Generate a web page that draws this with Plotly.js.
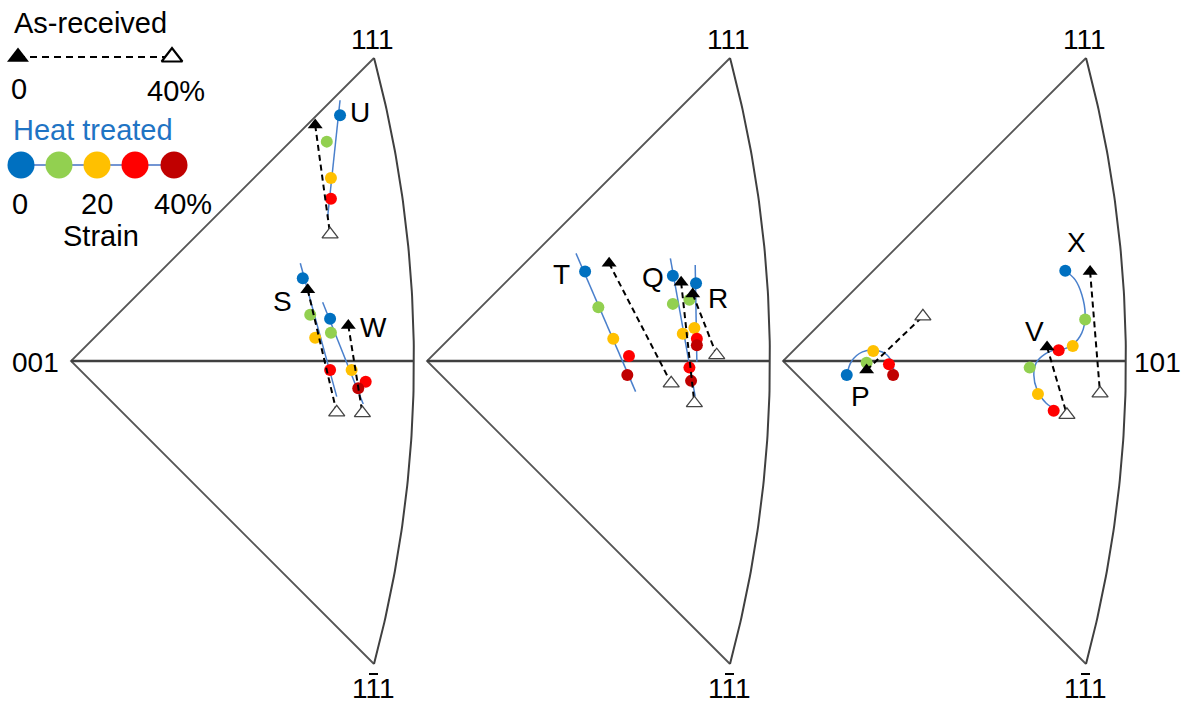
<!DOCTYPE html>
<html><head><meta charset="utf-8">
<script src="https://cdn.plot.ly/plotly-3.0.1.min.js"></script>
<style>html,body{margin:0;padding:0;background:#fff}#chart{width:1185px;height:703px}</style>
</head><body><div id="chart"></div>
<script>
// ---------- data (stereographic IPF coordinates) ----------
const grainNames = ['U','S','W','T','Q','R','P','X','V'];
const grainPanel = [1,1,1,2,2,2,3,3,3];
const strainLevels = [0,10,20,30,40];
const strainColors = ['#0070C0','#92D050','#FFC000','#FF0000','#C00000'];

// heat treated orientations at strain 0,10,20,30,40 %
const heatX = [
  [0.325,0.309,0.314,0.314,null],
  [0.280,0.289,0.295,0.313,null],
  [0.313,0.314,0.339,0.356,0.347],
  [0.191,0.207,0.225,0.244,0.242],
  [0.297,0.297,0.309,0.317,0.319],
  [0.325,0.317,0.323,0.326,0.326],
  [0.077,0.101,0.109,0.128,0.133],
  [0.341,0.365,0.350,0.333,null],
  [null,0.298,0.308,0.327,null]
];
const heatY = [
  [0.297,0.265,0.221,0.196,null],
  [0.100,0.056,0.028,-0.011,null],
  [0.051,0.034,-0.011,-0.025,-0.033],
  [0.108,0.065,0.027,0.006,-0.017],
  [0.103,0.069,0.033,-0.008,-0.024],
  [0.094,0.074,0.040,0.027,0.019],
  [-0.017,-0.002,0.012,-0.004,-0.017],
  [0.109,0.050,0.018,0.013,null],
  [null,-0.008,-0.040,-0.060,null]
];
// heat treated trend paths
const fitX = [
  [0.325,0.310],
  [0.277,0.321],
  [0.304,0.353],
  [0.180,0.252],
  [0.294,0.324],
  [0.324,0.326],
  [0.077,0.083,0.096,0.112,0.126,0.133,0.134],
  [0.341,0.353,0.361,0.365,0.361,0.349,0.334],
  [0.330,0.316,0.306,0.303,0.307,0.318,0.333]
];
const fitY = [
  [0.315,0.174],
  [0.118,-0.043],
  [0.071,-0.052],
  [0.130,-0.037],
  [0.124,-0.043],
  [0.116,-0.001],
  [-0.017,0.000,0.011,0.013,0.007,-0.006,-0.017],
  [0.109,0.098,0.080,0.056,0.034,0.019,0.013],
  [0.014,0.008,-0.002,-0.017,-0.035,-0.051,-0.060]
];
// as-received: 0 % and 40 % strain
const arStartX = [0.295,0.286,0.335,0.220,0.307,0.321,0.101,0.371,0.319];
const arStartY = [0.285,0.086,0.043,0.118,0.095,0.081,-0.011,0.108,0.017];
const arEndX   = [0.313,0.321,0.352,0.295,0.323,0.350,0.169,0.383,0.343];
const arEndY   = [0.153,-0.062,-0.063,-0.027,-0.051,0.007,0.054,-0.039,-0.065];
// grain label positions
const labelX = [0.349,0.256,0.366,0.162,0.273,0.352,0.094,0.355,0.304];
const labelY = [0.300,0.072,0.041,0.104,0.101,0.076,-0.043,0.143,0.036];

const poleLabels = ['001','101','111','111'];

// ---------- geometry / layout ----------
const W = 1185, H = 703, S = 827.8;
const apexPx = [71,427,783], apexPy = 361;
const FONT = 'Liberation Sans, Arial, sans-serif';
const axN = p => p === 1 ? '' : String(p);

const traces = [];
const layout = {
  width: W, height: H, margin:{l:0,r:0,t:0,b:0},
  paper_bgcolor:'#fff', plot_bgcolor:'rgba(0,0,0,0)',
  showlegend:false, annotations:[], shapes:[], font:{family:FONT, size:28, color:'#000'}
};

// frame of the standard triangle (two mirrored halves)
function frame() {
  const c = 1/Math.sqrt(3);
  const v111 = c/(1+c);
  const pm = Math.asin(1/Math.sqrt(3));
  const ax = [], ay = [];
  for (let i = 0; i <= 120; i++) {
    const ph = -pm + 2*pm*i/120;
    const h = Math.cos(ph)/Math.SQRT2, k = Math.sin(ph), l = h;
    ax.push(h/(1+l)); ay.push(k/(1+l));
  }
  return {v111, v101:Math.tan(Math.PI/8), ax, ay};
}
const fr = frame();

for (let p = 1; p <= 3; p++) {
  const n = axN(p);
  const a = apexPx[p-1];
  layout['xaxis'+n] = {domain:[(a-6)/W,(a+350)/W], range:[-6/S,350/S], visible:false, fixedrange:true, anchor:'y'+n};
  layout['yaxis'+n] = {domain:[0,1], range:[-(H-apexPy)/S, apexPy/S], visible:false, fixedrange:true, anchor:'x'+n};
  const xa = 'x'+n, ya = 'y'+n;
  traces.push({type:'scatter', mode:'lines', x:[fr.v111,0,fr.v111], y:[fr.v111,0,-fr.v111],
    xaxis:xa, yaxis:ya, line:{color:'#555555', width:1.8}, hoverinfo:'skip'});
  traces.push({type:'scatter', mode:'lines', x:[0,fr.v101], y:[0,0],
    xaxis:xa, yaxis:ya, line:{color:'#404040', width:2.3}, hoverinfo:'skip'});
  traces.push({type:'scatter', mode:'lines', x:fr.ax, y:fr.ay,
    xaxis:xa, yaxis:ya, line:{color:'#404040', width:2}, hoverinfo:'skip'});
  // pole labels
  layout.annotations.push({xref:xa, yref:ya, x:fr.v111, y:(apexPy-39)/S, xshift:-2, xanchor:'center', yanchor:'middle',
    text:poleLabels[2], showarrow:false, font:{size:28}});
  layout.annotations.push({xref:xa, yref:ya, x:fr.v111, y:-(688-apexPy)/S, xshift:-1, xanchor:'center', yanchor:'middle',
    text:poleLabels[3], showarrow:false, font:{size:28}});
  // overbar on the middle index of 1-11
  const cx = a + 302;
  layout.shapes.push({type:'line', xref:'paper', yref:'paper', x0:(cx-4)/W, x1:(cx+5)/W, y0:1-674/H, y1:1-674/H,
    line:{color:'#000', width:2}});
}
layout.annotations.push({xref:'paper', yref:'paper', x:35/W, y:1-362/H, xanchor:'center', yanchor:'middle',
  text:poleLabels[0], showarrow:false, font:{size:28}});
layout.annotations.push({xref:'paper', yref:'paper', x:1157/W, y:1-362/H, xanchor:'center', yanchor:'middle',
  text:poleLabels[1], showarrow:false, font:{size:28}});

// heat-treated fit lines
grainNames.forEach((g,i) => {
  const n = axN(grainPanel[i]);
  traces.push({type:'scatter', mode:'lines', x:fitX[i], y:fitY[i], xaxis:'x'+n, yaxis:'y'+n,
    line:{color:'#4A80CC', width:1.5, shape:'spline', smoothing:1}, hoverinfo:'skip'});
});
// heat-treated points
grainNames.forEach((g,i) => {
  const n = axN(grainPanel[i]);
  const xs=[], ys=[], cs=[];
  strainLevels.forEach((s,j) => { if (heatX[i][j] !== null) { xs.push(heatX[i][j]); ys.push(heatY[i][j]); cs.push(strainColors[j]); }});
  traces.push({type:'scatter', mode:'markers', x:xs, y:ys, xaxis:'x'+n, yaxis:'y'+n,
    marker:{color:cs, size:12, line:{width:0}}, name:g});
});
// as-received dashed paths + triangles
grainNames.forEach((g,i) => {
  const n = axN(grainPanel[i]);
  traces.push({type:'scatter', mode:'lines', x:[arStartX[i],arEndX[i]], y:[arStartY[i],arEndY[i]],
    xaxis:'x'+n, yaxis:'y'+n, line:{color:'#000', width:2, dash:'6px,4px'}, hoverinfo:'skip'});
  traces.push({type:'scatter', mode:'markers', x:[arEndX[i]], y:[arEndY[i]], xaxis:'x'+n, yaxis:'y'+n,
    marker:{symbol:'triangle-up', color:'#fff', size:14, line:{width:1.3, color:'#444'}}});
  traces.push({type:'scatter', mode:'markers', x:[arStartX[i]], y:[arStartY[i]], xaxis:'x'+n, yaxis:'y'+n,
    marker:{symbol:'triangle-up', color:'#000', size:13}});
  layout.annotations.push({xref:'x'+n, yref:'y'+n, x:labelX[i], y:labelY[i], xanchor:'center', yanchor:'middle',
    text:g, showarrow:false, font:{size:28}});
});

// ---------- key (top left) ----------
layout.xaxis4 = {domain:[0,1], range:[0,W], visible:false, fixedrange:true, anchor:'y4'};
layout.yaxis4 = {domain:[0,1], range:[H,0], visible:false, fixedrange:true, anchor:'x4'};
const keyArX = [18,172], keyY = 57;
traces.push({type:'scatter', mode:'lines', x:keyArX, y:[keyY,keyY], xaxis:'x4', yaxis:'y4',
  line:{color:'#000', width:2.2, dash:'7px,5px'}, hoverinfo:'skip'});
traces.push({type:'scatter', mode:'markers', x:[keyArX[0]], y:[keyY], xaxis:'x4', yaxis:'y4',
  marker:{symbol:'triangle-up', color:'#000', size:19}});
traces.push({type:'scatter', mode:'markers', x:[keyArX[1]], y:[keyY], xaxis:'x4', yaxis:'y4',
  marker:{symbol:'triangle-up', color:'#fff', size:18, line:{width:2.2, color:'#000'}}});
const keyDotX = [21,59,97,135,174], keyDotY = 165;
traces.push({type:'scatter', mode:'lines', x:[keyDotX[0],keyDotX[4]-6], y:[keyDotY,keyDotY], xaxis:'x4', yaxis:'y4',
  line:{color:'#4472C4', width:1.5}, hoverinfo:'skip'});
traces.push({type:'scatter', mode:'markers', x:keyDotX, y:keyDotX.map(()=>keyDotY), xaxis:'x4', yaxis:'y4',
  marker:{color:strainColors, size:27, line:{width:0}}});
const keyTexts = [
  {t:'As-received', x:12, y:23, a:'left', c:'#000'},
  {t:'0', x:19, y:89, a:'center', c:'#000'},
  {t:'40%', x:176, y:91, a:'center', c:'#000'},
  {t:'Heat treated', x:11, y:130, a:'left', c:'#1F74C4'},
  {t:'0', x:20, y:204, a:'center', c:'#000'},
  {t:'20', x:97, y:204, a:'center', c:'#000'},
  {t:'40%', x:183, y:204, a:'center', c:'#000'},
  {t:'Strain', x:101, y:236, a:'center', c:'#000'}
];
keyTexts.forEach(k => layout.annotations.push({xref:'paper', yref:'paper', x:k.x/W, y:1-k.y/H,
  xanchor:k.a, yanchor:'middle', text:k.t, showarrow:false, font:{size:29, color:k.c}}));

Plotly.newPlot('chart', traces, layout, {staticPlot:true, displayModeBar:false});
</script></body></html>
